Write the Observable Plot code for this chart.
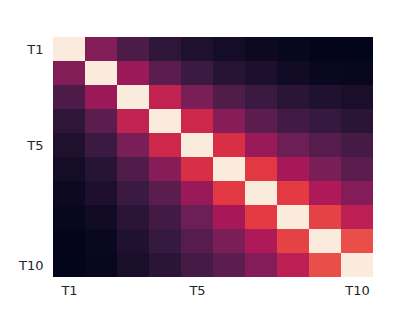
<!DOCTYPE html>
<html>
<head>
<meta charset="utf-8">
<script src="https://cdn.jsdelivr.net/npm/d3@7"></script>
<script src="https://cdn.jsdelivr.net/npm/@observablehq/plot@0.6"></script>
<style>
  html, body { margin: 0; padding: 0; background: #ffffff; }
  #chart { width: 415px; height: 311px; }
</style>
</head>
<body>
<div id="chart"></div>
<script>
const labels = ["T1","T2","T3","T4","T5","T6","T7","T8","T9","T10"];
const tickLabels = ["T1","T5","T10"];
const values = [
  [1.000, 0.328, 0.199, 0.123, 0.080, 0.051, 0.029, 0.011, 0.003, 0.000],
  [0.328, 1.000, 0.387, 0.233, 0.155, 0.103, 0.074, 0.043, 0.020, 0.014],
  [0.199, 0.387, 1.000, 0.484, 0.309, 0.208, 0.155, 0.112, 0.086, 0.066],
  [0.123, 0.233, 0.484, 1.000, 0.517, 0.338, 0.233, 0.177, 0.143, 0.112],
  [0.080, 0.155, 0.309, 0.517, 1.000, 0.547, 0.384, 0.276, 0.223, 0.182],
  [0.051, 0.103, 0.208, 0.338, 0.547, 1.000, 0.582, 0.417, 0.309, 0.233],
  [0.029, 0.074, 0.155, 0.233, 0.384, 0.582, 1.000, 0.586, 0.437, 0.331],
  [0.011, 0.043, 0.112, 0.177, 0.276, 0.417, 0.586, 1.000, 0.603, 0.468],
  [0.003, 0.020, 0.086, 0.143, 0.223, 0.309, 0.437, 0.603, 1.000, 0.631],
  [0.000, 0.014, 0.066, 0.112, 0.182, 0.233, 0.331, 0.468, 0.631, 1.000]
];
const rocketStops = ["#03051A","#35193E","#701F57","#AD1759","#E13342","#F37651","#F6B48F","#FAEBDD"];

const cells = [];
values.forEach((row, i) => row.forEach((v, j) => cells.push({row: labels[i], col: labels[j], v})));

const rocket = d3.piecewise(d3.interpolateRgb, rocketStops);

const chart = Plot.plot({
  width: 415,
  height: 311,
  marginLeft: 52,
  marginRight: 42,
  marginTop: 37,
  marginBottom: 34,
  style: {fontFamily: "DejaVu Sans, sans-serif", fontSize: "13px", color: "#262626", background: "#ffffff"},
  x: {domain: labels, padding: 0, axis: null},
  y: {domain: labels, padding: 0, axis: null},
  color: {type: "linear", domain: [d3.min(values.flat()), d3.max(values.flat())], interpolate: rocket},
  marks: [
    Plot.cell(cells, {x: "col", y: "row", fill: "v"}),
    Plot.axisX(tickLabels, {anchor: "bottom", tickSize: 0, tickPadding: 8, label: null, fontSize: 13}),
    Plot.axisY(tickLabels, {anchor: "left", tickSize: 0, tickPadding: 9, label: null, fontSize: 13})
  ]
});
document.getElementById("chart").appendChild(chart);
</script>
</body>
</html>
